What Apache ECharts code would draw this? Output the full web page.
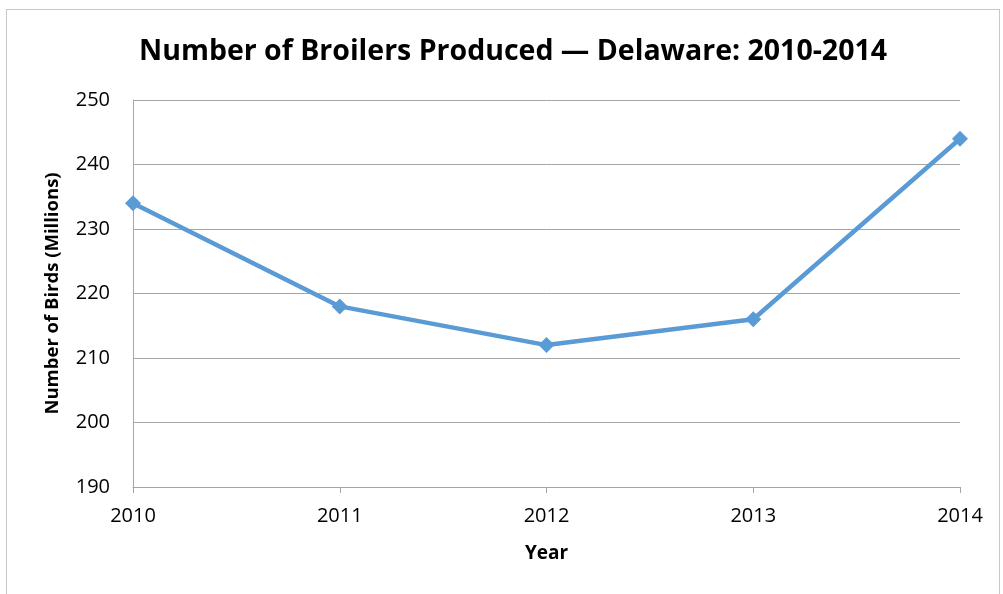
<!DOCTYPE html>
<html><head><meta charset="utf-8">
<script src="https://cdn.jsdelivr.net/npm/echarts@6/dist/echarts.min.js"></script>
<style>
html,body{margin:0;padding:0;background:#fff;}
#frame{position:absolute;left:6px;top:9px;width:994px;height:600px;border:1px solid #c8c8c8;box-sizing:border-box;}
#c{position:absolute;left:0;top:0;width:1003px;height:594px;}
</style></head>
<body>
<div id="frame"></div>
<div id="c"></div>
<script>
const years = ['2010','2011','2012','2013','2014'];
const broilers = [234, 218, 212, 216, 244];
const titleText = 'Number of Broilers Produced \u2014 Delaware: 2010-2014';
const yName = 'Number of Birds (Millions)';
const xName = 'Year';

const chart = echarts.init(document.getElementById('c'), null, {renderer:'canvas'});
chart.setOption({
  backgroundColor: 'transparent',
  animation: false,
  title: {
    text: titleText, left: 134, top: 32, padding: 5,
    textStyle: {fontFamily: 'Open Sans', fontWeight: 'bold', fontSize: 28.5, color: '#000'}
  },
  grid: {left: 133, right: 43, top: 100, bottom: 107, containLabel: false},
  xAxis: {
    type: 'category', data: years, boundaryGap: false,
    name: xName, nameLocation: 'middle', nameGap: 57,
    nameTextStyle: {fontFamily: 'Open Sans', fontWeight: 'bold', fontSize: 19, color: '#000'},
    axisLine: {lineStyle: {color: '#a6a6a6', width: 1}},
    axisTick: {show: true, length: 6, lineStyle: {color: '#a6a6a6'}},
    axisLabel: {fontFamily: 'Open Sans', fontSize: 20, color: '#000', margin: 19},
    splitLine: {show: false}
  },
  yAxis: {
    type: 'value', min: 190, max: 250, interval: 10,
    name: yName, nameLocation: 'middle', nameGap: 71, nameRotate: 90,
    nameTextStyle: {fontFamily: 'Open Sans', fontWeight: 'bold', fontSize: 18.5, color: '#000'},
    axisLine: {show: true, lineStyle: {color: '#a6a6a6', width: 1}},
    axisTick: {show: false},
    axisLabel: {fontFamily: 'Open Sans', fontSize: 20, color: '#000', margin: 23},
    splitLine: {lineStyle: {color: '#a6a6a6', width: 1}}
  },
  series: [{
    type: 'line', data: broilers,
    lineStyle: {color: '#5B9BD5', width: 4.5},
    itemStyle: {color: '#5B9BD5'},
    symbol: 'diamond', symbolSize: 16,
    showAllSymbol: true
  }]
});
</script>
</body></html>
